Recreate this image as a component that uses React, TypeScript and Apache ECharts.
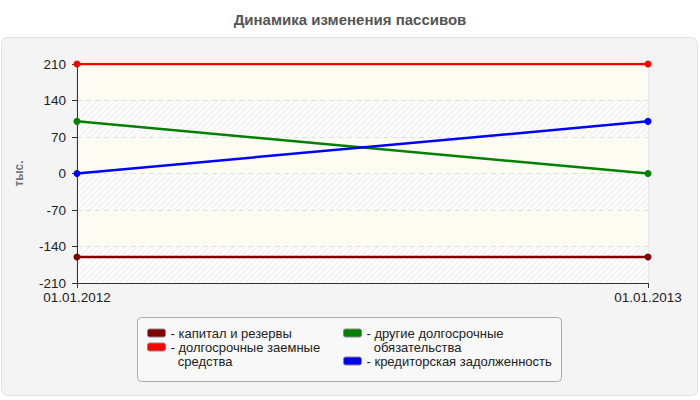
import React, { useEffect, useRef } from 'react';
import * as echarts from 'echarts';

// даты отчётов
const dates = ['01.01.2012', '01.01.2013'];

// статьи пассивов
const seriesNames = [
  'капитал и резервы',
  'долгосрочные заемные средства',
  'другие долгосрочные обязательства',
  'кредиторская задолженность',
];

// значения, тыс.
const capitalReserves = [-160, -160];
const longTermLoans = [210, 210];
const otherLongTerm = [100, 0];
const payables = [0, 100];

const seriesColors = ['#800000', '#ff0000', '#008000', '#0000ff'];

// подписи легенды (перенос строк как на картинке)
const legendLabels = [
  ['капитал и резервы'],
  ['долгосрочные заемные', 'средства'],
  ['другие долгосрочные', 'обязательства'],
  ['кредиторская задолженность'],
];

const yMin = -210;
const yMax = 210;
const yStep = 70;

const FONT = 'Arial, "Liberation Sans", sans-serif';
const LEGEND_LH = 14.5;

// diagonal hatch for every other band
const makeHatch = () => {
  const c = document.createElement('canvas');
  c.width = 6;
  c.height = 6;
  const ctx = c.getContext('2d')!;
  ctx.fillStyle = '#fcfcfc';
  ctx.fillRect(0, 0, 6, 6);
  ctx.strokeStyle = '#ececec';
  ctx.lineWidth = 1;
  ctx.beginPath();
  ctx.moveTo(-1, 7); ctx.lineTo(7, -1);
  ctx.moveTo(-4, 4); ctx.lineTo(4, -4);
  ctx.moveTo(2, 10); ctx.lineTo(10, 2);
  ctx.stroke();
  return { image: c, repeat: 'repeat' };
};

const App: React.FC = () => {
  const chartRef = useRef<HTMLDivElement>(null);

  useEffect(() => {
    document.body.style.margin = '0';
    const chart = echarts.init(chartRef.current!, null, { renderer: 'svg' });

    const data = [capitalReserves, longTermLoans, otherLongTerm, payables];

    // legend item placement (icon left, icon centre y)
    const legendPos = [
      { left: 147, cy: 333 },
      { left: 147, cy: 347 },
      { left: 343, cy: 333 },
      { left: 343, cy: 361 },
    ];

    const legends = seriesNames.map((name, i) => {
      const lines = legendLabels[i];
      const multi = lines.length > 1;
      return {
        show: true,
        left: legendPos[i].left,
        // the blank line on top makes the text block three lines tall
        top: legendPos[i].cy - (multi ? 1.5 : 0.5) * LEGEND_LH,
        padding: 0,
        orient: 'vertical',
        icon: 'roundRect',
        itemWidth: 18,
        itemHeight: 8,
        itemStyle: { borderColor: '#888', borderWidth: 1 },
        textStyle: { fontSize: 13, color: '#222', lineHeight: LEGEND_LH, fontFamily: FONT },
        data: [name],
        // leading blank line keeps the first line level with the icon
        formatter: () => (multi ? '\n' : '') + '- ' + lines.join('\n  '),
      };
    });

    const options = {
      animation: false,
      textStyle: { fontFamily: FONT },
      title: {
        text: 'Динамика изменения пассивов',
        left: 'center',
        top: 12,
        padding: 0,
        textStyle: { fontSize: 15, fontWeight: 'bold', color: '#555', fontFamily: FONT },
      },
      graphic: [
        {
          type: 'rect',
          z: -10,
          silent: true,
          shape: { x: 1.5, y: 37.5, width: 696, height: 358, r: 6 },
          style: { fill: '#f4f4f4', stroke: '#e2e2e2', lineWidth: 1 },
        },
        {
          type: 'rect',
          z: -9,
          silent: true,
          shape: { x: 137.5, y: 317.5, width: 424, height: 64, r: 4 },
          style: { fill: '#f8f8f8', stroke: '#aaa', lineWidth: 1 },
        },
      ],
      legend: legends,
      grid: {
        left: 77,
        right: 52,
        top: 64,
        bottom: 117,
        show: true,
        borderColor: '#ddd',
        borderWidth: 1,
        backgroundColor: 'transparent',
      },
      xAxis: {
        type: 'category',
        boundaryGap: false,
        data: dates,
        axisLine: { onZero: false, lineStyle: { color: '#333', width: 1 } },
        axisTick: { show: true, length: 5, lineStyle: { color: '#333' } },
        axisLabel: { fontSize: 13.5, color: '#222', margin: 7 },
        splitLine: { show: false },
      },
      yAxis: {
        type: 'value',
        min: yMin,
        max: yMax,
        interval: yStep,
        name: 'тыс.',
        nameLocation: 'middle',
        nameRotate: 90,
        nameGap: 52,
        nameTextStyle: { fontSize: 12, fontWeight: 'bold', color: '#777' },
        axisLine: { show: true, lineStyle: { color: '#333', width: 1 } },
        axisTick: { show: true, length: 5, lineStyle: { color: '#333' } },
        axisLabel: { fontSize: 13.5, color: '#222', margin: 11 },
        splitLine: { show: true, lineStyle: { color: '#e0e0e0', type: [5, 4] } },
        splitArea: { show: true, areaStyle: { color: [makeHatch(), '#fcfcf3'] } },
      },
      series: seriesNames.map((name, i) => ({
        name,
        type: 'line',
        data: data[i],
        symbol: 'circle',
        symbolSize: 7,
        color: seriesColors[i],
        lineStyle: { width: 2.5, color: seriesColors[i] },
        itemStyle: { color: seriesColors[i] },
      })),
    };

    chart.setOption(options);

    return () => {
      chart.dispose();
    };
  }, []);

  return <div ref={chartRef} style={{ width: '700px', height: '400px' }} />;
};

export default App;
